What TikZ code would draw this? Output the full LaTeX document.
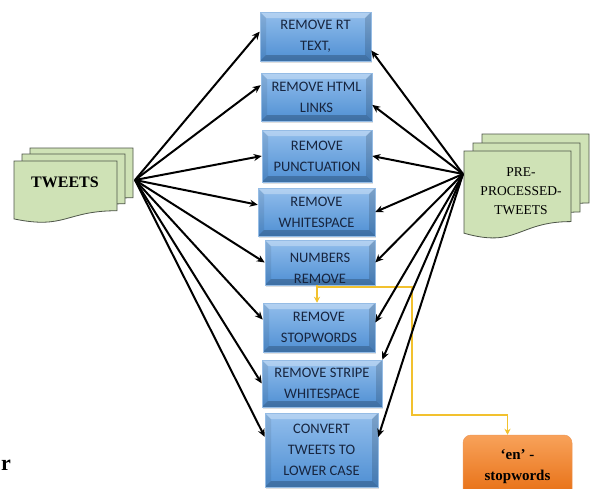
\documentclass[tikz,border=0pt]{standalone}
\usepackage{fontspec}
\setmainfont{Liberation Serif}
\newfontfamily\boxfont{Carlito}
\usetikzlibrary{arrows.meta,calc,shadows}
\definecolor{bluetop}{HTML}{92BEEC}
\definecolor{bluebot}{HTML}{4F8FD3}
\definecolor{txtnavy}{HTML}{17253F}
\definecolor{docfill}{HTML}{CFE2B6}
\definecolor{docline}{HTML}{4D5548}
\definecolor{yel}{HTML}{F2C12E}
\definecolor{orTop}{HTML}{F8A25A}
\definecolor{orBot}{HTML}{E66C10}
\newcommand\docsheet[4]{%
  \filldraw[docsty] (#1,#2) -- ({#1+#3},#2) -- ({#1+#3},{#2+0.802*#4})
    .. controls ({#1+0.5*#3},{#2+0.802*#4}) and ({#1+0.5*#3},{#2+1.108*#4}) ..
    (#1,{#2+0.934*#4}) -- cycle;}
\tikzset{
  docsty/.style={fill=docfill, draw=docline, line width=0.8pt},
  doctext/.style={align=center, text=black, inner sep=0pt},
  boxtext/.style={font=\boxfont\fontsize{14.5}{21}\selectfont, text=txtnavy, align=center, inner sep=0pt},
  bevelbox/.style={draw=bluebot!60!white, line width=0.5pt, top color=bluetop, bottom color=bluebot,
    inner sep=0pt, boxtext,
    drop shadow={opacity=0.25, shadow xshift=1pt, shadow yshift=-2pt},
    path picture={
      \coordinate (pNW) at (path picture bounding box.north west);
      \coordinate (pNE) at (path picture bounding box.north east);
      \coordinate (pSW) at (path picture bounding box.south west);
      \coordinate (pSE) at (path picture bounding box.south east);
      \fill[white,opacity=0.3] (pNW) -- (pNE) -- ($(pNE)+(-6pt,-6pt)$) -- ($(pNW)+(6pt,-6pt)$) -- cycle;
      \fill[black,opacity=0.08] (pNW) -- ($(pNW)+(6pt,-6pt)$) -- ($(pSW)+(6pt,6pt)$) -- (pSW) -- cycle;
      \fill[black,opacity=0.15] (pNE) -- ($(pNE)+(-6pt,-6pt)$) -- ($(pSE)+(-6pt,6pt)$) -- (pSE) -- cycle;
      \fill[black,opacity=0.22] (pSW) -- ($(pSW)+(6pt,6pt)$) -- ($(pSE)+(-6pt,6pt)$) -- (pSE) -- cycle;
    }},
  conn/.style={draw=black, line width=2pt, -{Stealth[length=8pt,width=7pt]}},
  yconn/.style={draw=yel, line width=1.8pt},
  enbox/.style={rounded corners=8pt, top color=orTop, bottom color=orBot, draw=orBot!70!white,
    line width=0.5pt, align=center, font=\bfseries\fontsize{15}{21}\selectfont, text=black, inner sep=0pt}
}
\begin{document}
\begin{tikzpicture}[x=1pt,y=-1pt]
\useasboundingbox (0,0) rectangle (593,488);
\fill[white] (0,0) rectangle (593,488);

% documents
\docsheet{30}{148}{103}{62}
\docsheet{22}{154}{103}{62}
\docsheet{14}{161}{103}{62}
\node[doctext, font=\bfseries\fontsize{16}{19}\selectfont] (tweets) at (65,182) {TWEETS};

\docsheet{482}{134}{107}{86}
\docsheet{473}{143}{107}{86}
\docsheet{464}{151}{107}{88}
\node[doctext, font=\fontsize{13.5}{19}\selectfont] (pre) at (521,191) {PRE-\\PROCESSED-\\TWEETS};

\coordinate (tl) at (135,180);
\coordinate (tr) at (463,174);

% blue boxes
\node[bevelbox, minimum width=111pt, minimum height=49pt] (b1) at (315.5,36.5) {REMOVE RT\\TEXT,};
\node[bevelbox, minimum width=111pt, minimum height=48pt] (b2) at (316.5,97) {REMOVE HTML\\LINKS};
\node[bevelbox, minimum width=110pt, minimum height=52pt] (b3) at (317,156) {REMOVE\\PUNCTUATION};
\node[bevelbox, minimum width=117pt, minimum height=48pt] (b4) at (316.5,212) {REMOVE\\WHITESPACE};
\node[bevelbox, minimum width=110pt, minimum height=45pt] (b5) at (320,262.5) {};
\begin{scope}
  \clip (b5.south west) rectangle (b5.north east);
  \node[boxtext] (b5t) at (320,268) {NUMBERS\\REMOVE};
\end{scope}
\node[bevelbox, minimum width=112pt, minimum height=49pt] (b6) at (319,327.5) {REMOVE\\STOPWORDS};
\node[bevelbox, minimum width=120pt, minimum height=47pt] (b7) at (322,383.5) {REMOVE STRIPE\\WHITESPACE};
\node[bevelbox, minimum width=113pt, minimum height=74pt] (b8) at (321.5,450) {CONVERT\\TWEETS TO\\LOWER CASE};

% orange box
\node[enbox, minimum width=109pt, minimum height=64pt] (en) at (517.5,467) {‘en’ -\\stopwords};

% yellow connector
\coordinate (ys) at (317,285);
\draw[yconn, -{Stealth[length=6pt,width=6pt]}] (ys) -- (ys |- b6.north);
\draw[yconn, -{Stealth[length=6pt,width=6pt]}] (317,287) -- (412,287) -- (412,415) -| ([xshift=-10pt]en.north);

% left arrows
\draw[conn] (tl) -- (b1.175);
\draw[conn] (tl) -- (b2.168);
\draw[conn] (tl) -- (b3.west);
\draw[conn] (tl) -- (b4.173);
\draw[conn] (tl) -- (b5.west);
\draw[conn] (tl) -- (b6.172);
\draw[conn] (tl) -- (b7.west);
\draw[conn] (tl) -- (b8.167);

% right arrows
\draw[conn] (tr) -- (b1.-14);
\draw[conn] (tr) -- (b2.-8);
\draw[conn] (tr) -- (b3.east);
\draw[conn] (tr) -- (b4.east);
\draw[conn] (tr) -- (b5.east);
\draw[conn] (tr) -- (b6.5);
\draw[conn] (tr) -- (b7.north east);
\draw[conn] (tr) -- (b8.13);

% stray letter
\node[anchor=base west, inner sep=0pt, font=\bfseries\fontsize{22}{22}\selectfont] (rr) at (1,470) {r};
\end{tikzpicture}
\end{document}
